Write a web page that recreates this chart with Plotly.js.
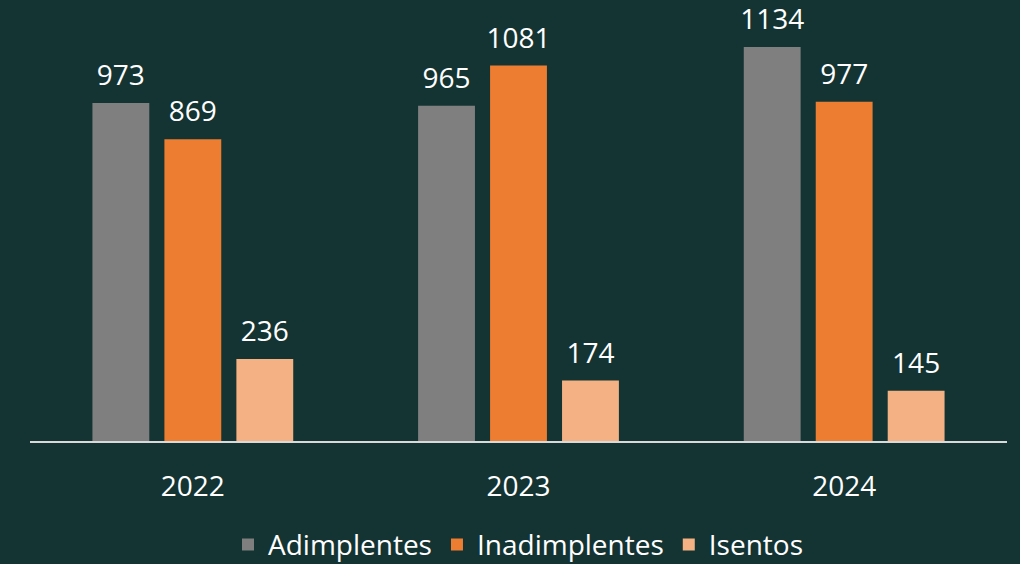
<!DOCTYPE html>
<html>
<head>
<meta charset="utf-8">
<script src="https://cdn.plot.ly/plotly-3.0.1.min.js"></script>
<style>
  html, body { margin: 0; padding: 0; background: #143433; }
  #chart { width: 1020px; height: 564px; }
</style>
</head>
<body>
<div id="chart"></div>
<script>
// chart data
const years = ['2022', '2023', '2024'];
const seriesNames = ['Adimplentes', 'Inadimplentes', 'Isentos'];
const adimplentes = [973, 965, 1134];
const inadimplentes = [869, 1081, 977];
const isentos = [236, 174, 145];
const seriesColors = ['#7f7f7f', '#ed7d31', '#f4b183'];

const seriesValues = [adimplentes, inadimplentes, isentos];
const font = 'Open Sans, sans-serif';
const fontSize = 28;
const gap = 0.337;

// bars
const traces = seriesValues.map((vals, i) => ({
  type: 'bar',
  x: years,
  y: vals,
  name: seriesNames[i],
  offsetgroup: 'g' + i,
  marker: { color: seriesColors[i] },
  hoverinfo: 'skip'
}));

// value labels, grouped like the bars so they sit over each one
seriesValues.forEach((vals, i) => {
  traces.push({
    type: 'scatter',
    mode: 'markers+text',
    x: years,
    y: vals,
    text: vals.map(String),
    textposition: 'top center',
    textfont: { family: font, size: fontSize, color: '#ffffff' },
    marker: { size: 16, opacity: 0 },
    offsetgroup: 'g' + i,
    showlegend: false,
    cliponaxis: false,
    hoverinfo: 'skip'
  });
});

const layout = {
  width: 1020,
  height: 564,
  paper_bgcolor: '#143433',
  plot_bgcolor: '#143433',
  margin: { l: 30, r: 13, t: 20, b: 123, autoexpand: false },
  barmode: 'group',
  bargap: gap,
  bargroupgap: 0.21,
  scattermode: 'group',
  scattergap: gap,
  font: { family: font, size: fontSize, color: '#ffffff' },
  xaxis: {
    type: 'category',
    showline: true,
    linecolor: '#d9d9d9',
    linewidth: 2,
    ticks: '',
    ticklabelstandoff: 19,
    tickfont: { family: font, size: fontSize, color: '#ffffff' },
    automargin: false,
    fixedrange: true
  },
  yaxis: {
    range: [0, 1212],
    visible: false,
    showgrid: false,
    zeroline: false,
    fixedrange: true
  },
  showlegend: true,
  legend: {
    orientation: 'h',
    x: 0.5,
    xanchor: 'center',
    yref: 'container',
    y: 0.034,
    yanchor: 'middle',
    font: { family: font, size: fontSize, color: '#ffffff' },
    bgcolor: 'rgba(0,0,0,0)'
  }
};

const config = { displayModeBar: false, staticPlot: true };

Plotly.newPlot('chart', traces, layout, config);
</script>
</body>
</html>
